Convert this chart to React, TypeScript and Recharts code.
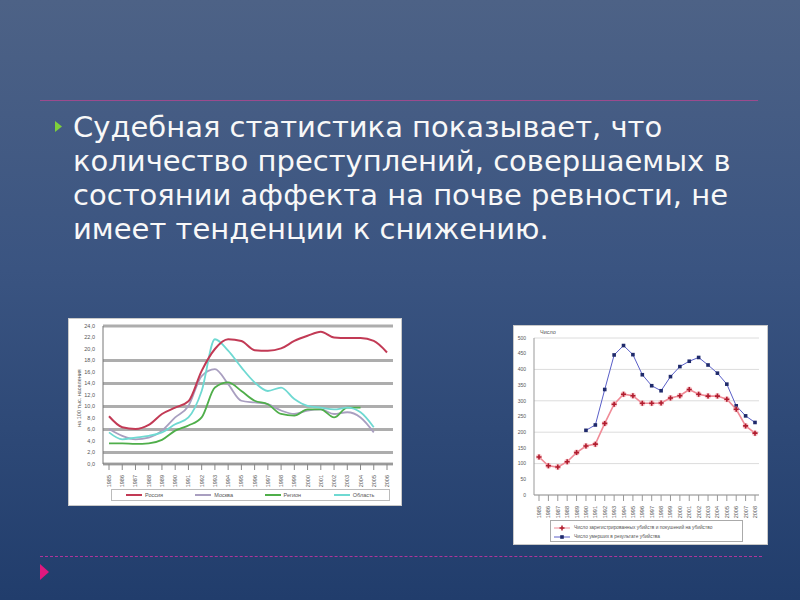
import React from "react";
import { LineChart, Line, XAxis, YAxis, CartesianGrid } from "recharts";

// ---- left chart: rate per 100k, by region ----
const yearsLeft = ["1985", "1986", "1987", "1988", "1989", "1990", "1991", "1992", "1993", "1994", "1995",
  "1996", "1997", "1998", "1999", "2000", "2001", "2002", "2003", "2004", "2005", "2006"];
const russia = [8.3, 6.4, 6.1, 6.8, 8.7, 9.8, 10.9, 16.2, 20.0, 21.7, 21.4, 19.8, 19.7, 20.1, 21.4, 22.3, 23.0, 22.0, 21.9, 21.9, 21.4, 19.4];
const moscow = [6.1, 4.9, 4.3, 4.6, 5.8, 8.1, 10.1, 15.3, 16.5, 13.9, 11.0, 10.7, 10.4, 9.3, 8.7, 9.3, 9.5, 8.7, 9.0, 8.1, 5.5, null];
const region = [3.6, 3.6, 3.5, 3.6, 4.2, 5.8, 6.7, 8.1, 13.3, 14.2, 12.7, 11.0, 10.4, 8.7, 8.4, 9.5, 9.5, 8.1, 9.8, 9.8, null, null];
const oblast = [5.5, 4.3, 4.6, 4.9, 5.5, 6.9, 8.1, 12.7, 21.7, 19.7, 16.8, 14.2, 12.7, 13.3, 11.3, 10.1, 9.8, 9.5, 9.8, 9.0, 6.4, null];
const leftNames = ["Россия", "Москва", "Регион", "Область"];
const leftColors = ["#c23a55", "#a99fc0", "#4fae4a", "#6fd9d2"];
const leftTicks = [0, 2, 4, 6, 8, 10, 12, 14, 16, 18, 20, 22, 24];

// ---- right chart: counts ----
const yearsRight = ["1985", "1986", "1987", "1988", "1989", "1990", "1991", "1992", "1993", "1994", "1995", "1996",
  "1997", "1998", "1999", "2000", "2001", "2002", "2003", "2004", "2005", "2006", "2007", "2008"];
const attempts = [121, 93, 89, 106, 135, 156, 162, 228, 289, 321, 316, 292, 292, 293, 309, 316, 336, 321, 315, 315, 305, 273, 220, 197];
const deaths = [null, null, null, null, null, 206, 223, 336, 446, 476, 447, 383, 348, 332, 377, 409, 426, 438, 414, 388, 353, 284, 252, 231];
const rightNames = [
  "Число зарегистрированных убийств и покушений на убийство",
  "Число умерших в результате убийства",
];
const rightTicks = [0, 50, 100, 150, 200, 250, 300, 350, 400, 450, 500];

const leftData = yearsLeft.map((y, i) => ({ year: y, a: russia[i], b: moscow[i], c: region[i], d: oblast[i] }));
const rightData = yearsRight.map((y, i) => ({ year: y, a: attempts[i], b: deaths[i] }));

const FONT = "'Liberation Sans', Arial, sans-serif";

const YearTick = (props: any) => {
  const { x, y, payload } = props;
  return (
    <text x={x} y={y + 3} transform={`rotate(-90 ${x} ${y + 3})`} textAnchor="end" dominantBaseline="central"
      fontSize={5.5} fill="#555" fontFamily={FONT}>{payload.value}</text>
  );
};

const CrossDot = (props: any) => {
  const { cx, cy, value } = props;
  if (value == null || cx == null) return null;
  return (
    <g>
      <circle cx={cx} cy={cy} r={3} fill="#f4a0a8" opacity={0.6} />
      <path d={`M${cx - 2.5},${cy}H${cx + 2.5}M${cx},${cy - 2.5}V${cy + 2.5}`} stroke="#b01c2e" strokeWidth={1.6} />
    </g>
  );
};

const SquareDot = (props: any) => {
  const { cx, cy, value } = props;
  if (value == null || cx == null) return null;
  return <rect x={cx - 1.8} y={cy - 1.8} width={3.6} height={3.6} fill="#1f2a6b" />;
};

const box: React.CSSProperties = { position: "absolute", background: "#fff", border: "1px solid #c9c9c9", boxSizing: "border-box" };

export default function App() {
  return (
    <div style={{ position: "absolute", left: 0, top: 0, width: 800, height: 600, overflow: "hidden",
      background: "linear-gradient(180deg, #4d6286 0%, #3a5481 45%, #213d6c 100%)", fontFamily: FONT }}>
      {/* top rule */}
      <div style={{ position: "absolute", left: 40, top: 100, width: 718, borderTop: "1px solid #9b4b8e" }} />
      {/* bullet */}
      <svg style={{ position: "absolute", left: 55, top: 121 }} width={8} height={11}>
        <polygon points="0,0 7,5.5 0,11" fill="#7ed03a" />
      </svg>
      <div style={{ position: "absolute", left: 73, top: 110, width: 720, whiteSpace: "nowrap", color: "#f8f8f8",
        fontFamily: "'DejaVu Sans', sans-serif", fontSize: 29, lineHeight: "34px" }}>
        Судебная статистика показывает, что<br />
        количество преступлений, совершаемых в<br />
        состоянии аффекта на почве ревности, не<br />
        имеет тенденции к снижению.
      </div>

      {/* left chart */}
      <div style={{ ...box, left: 68, top: 318, width: 334, height: 188 }}>
        <div style={{ position: "absolute", left: 0, top: 0 }}>
          <LineChart width={332} height={186} data={leftData} margin={{ top: 7, right: 8, left: 12, bottom: 19 }}>
            <CartesianGrid vertical={false} stroke="#adadad" strokeWidth={2.8} />
            <XAxis dataKey="year" interval={0} height={22} tick={<YearTick />} tickLine={{ stroke: "#888" }}
              axisLine={{ stroke: "#888" }} padding={{ left: 6, right: 6 }} />
            <YAxis domain={[0, 24]} ticks={leftTicks} width={22} tickLine={false} axisLine={{ stroke: "#777" }}
              tick={{ fontSize: 5.5, fill: "#555", fontFamily: FONT }}
              tickFormatter={(v: number) => v.toFixed(1).replace(".", ",")} />
            <Line dataKey="b" type="monotone" stroke={leftColors[1]} strokeWidth={1.8} dot={false} isAnimationActive={false} />
            <Line dataKey="c" type="monotone" stroke={leftColors[2]} strokeWidth={1.8} dot={false} isAnimationActive={false} />
            <Line dataKey="d" type="monotone" stroke={leftColors[3]} strokeWidth={1.8} dot={false} isAnimationActive={false} />
            <Line dataKey="a" type="monotone" stroke={leftColors[0]} strokeWidth={2} dot={false} isAnimationActive={false} />
          </LineChart>
        </div>
        <div style={{ position: "absolute", left: 4, top: 44, width: 12, height: 70, display: "flex", alignItems: "center", justifyContent: "center" }}>
          <div style={{ transform: "rotate(-90deg)", whiteSpace: "nowrap", fontSize: 5.5, color: "#555" }}>на 100 тыс. населения</div>
        </div>
        <div style={{ position: "absolute", left: 42, top: 170, width: 279, height: 12, border: "1px solid #bbb",
          boxSizing: "border-box", display: "flex", alignItems: "center", fontSize: 5.5, color: "#555" }}>
          {leftNames.map((n, i) => (
            <div key={n} style={{ display: "flex", alignItems: "center", width: 70, paddingLeft: 14, boxSizing: "border-box" }}>
              <div style={{ width: 16, height: 2, background: leftColors[i], marginRight: 3 }} />{n}
            </div>
          ))}
        </div>
      </div>

      {/* right chart */}
      <div style={{ ...box, left: 513, top: 325, width: 255, height: 220 }}>
        <div style={{ position: "absolute", left: 0, top: 0 }}>
          <LineChart width={253} height={218} data={rightData} margin={{ top: 12, right: 8, left: 2, bottom: 31 }}>
            <CartesianGrid vertical={false} stroke="#dcdcdc" strokeWidth={1} />
            <XAxis dataKey="year" interval={0} height={18} tick={<YearTick />} tickLine={{ stroke: "#999" }}
              axisLine={{ stroke: "#999" }} padding={{ left: 5, right: 4 }} />
            <YAxis domain={[0, 500]} ticks={rightTicks} width={18} tickLine={false} axisLine={{ stroke: "#999" }}
              tick={{ fontSize: 5, fill: "#555", fontFamily: FONT }} />
            <Line dataKey="b" type="linear" stroke="#5a5fc8" strokeWidth={1} dot={<SquareDot />} isAnimationActive={false} />
            <Line dataKey="a" type="linear" stroke="#f08a96" strokeWidth={1.6} dot={<CrossDot />} isAnimationActive={false} />
          </LineChart>
        </div>
        <div style={{ position: "absolute", left: 26, top: 3, fontSize: 5.5, color: "#555" }}>Число</div>
        <div style={{ position: "absolute", left: 36, top: 194, width: 193, height: 22, border: "1px solid #aaa",
          boxSizing: "border-box", fontSize: 4.8, color: "#555", padding: "2px 0 0 3px" }}>
          {rightNames.map((n, i) => (
            <div key={n} style={{ display: "flex", alignItems: "center", height: 9, whiteSpace: "nowrap" }}>
              <svg width={16} height={6} style={{ marginRight: 4 }}>
                <line x1={0} y1={3} x2={16} y2={3} stroke={i === 0 ? "#f08a96" : "#5a5fc8"} strokeWidth={1} />
                {i === 0
                  ? <path d="M5.5,3H10.5M8,0.5V5.5" stroke="#b01c2e" strokeWidth={1.5} />
                  : <rect x={6.2} y={1.2} width={3.6} height={3.6} fill="#1f2a6b" />}
              </svg>
              {n}
            </div>
          ))}
        </div>
      </div>

      {/* bottom rule and marker */}
      <div style={{ position: "absolute", left: 40, top: 556, width: 722, borderTop: "1px dashed #b0349a" }} />
      <svg style={{ position: "absolute", left: 40, top: 564 }} width={10} height={16}>
        <polygon points="0,0 9,8 0,16" fill="#e0187e" />
      </svg>
    </div>
  );
}
